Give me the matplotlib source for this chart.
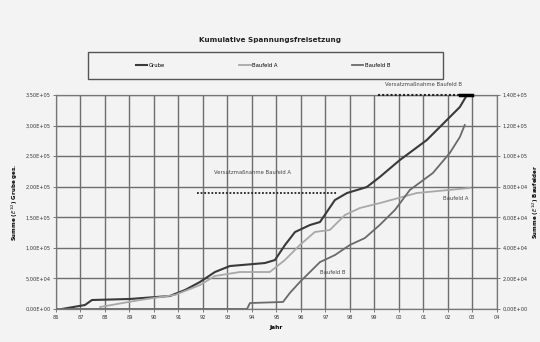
import matplotlib
matplotlib.use("Agg")
import matplotlib.pyplot as plt
from matplotlib.ticker import FuncFormatter
from matplotlib.patches import Rectangle

# ---- data ----
grube_year = [1986.24, 1987.18, 1987.47, 1989.02, 1990.65, 1991.27, 1991.88, 1992.49, 1993.10,
              1994.53, 1994.94, 1995.35, 1995.76, 1996.37, 1996.78, 1997.39, 1997.88, 1998.69,
              1999.22, 2000.04, 2001.14, 2002.08, 2002.49, 2002.78]
grube_val = [0.0, 0.065e5, 0.147e5, 0.164e5, 0.213e5, 0.311e5, 0.442e5, 0.605e5, 0.703e5,
             0.752e5, 0.801e5, 1.047e5, 1.259e5, 1.374e5, 1.423e5, 1.783e5, 1.897e5, 1.995e5,
             2.159e5, 2.437e5, 2.764e5, 3.140e5, 3.304e5, 3.5e5]

a_year = [1987.80, 1989.43, 1990.86, 1991.88, 1992.49, 1993.51, 1994.73, 1995.35, 1995.96,
          1996.57, 1997.18, 1997.80, 1998.41, 1999.22, 2000.73, 2002.90]
a_val = [0.13e4, 0.59e4, 0.92e4, 1.57e4, 2.16e4, 2.42e4, 2.42e4, 3.21e4, 4.19e4,
         5.04e4, 5.17e4, 6.15e4, 6.61e4, 6.93e4, 7.59e4, 7.92e4]

b_year = [1986.0, 1993.80, 1993.92, 1995.27, 1995.55, 1995.96, 1996.37, 1996.78, 1997.39,
          1998.00, 1998.61, 1999.22, 1999.84, 2000.45, 2001.39, 2002.08, 2002.49, 2002.69]
b_val = [0.0, 0.0, 0.39e4, 0.46e4, 1.05e4, 1.77e4, 2.42e4, 3.07e4, 3.53e4,
         4.19e4, 4.64e4, 5.50e4, 6.48e4, 7.79e4, 8.90e4, 10.21e4, 11.25e4, 12.04e4]

year_ticks = list(range(1986, 2005))
year_labels = [f"{y % 100:02d}" for y in year_ticks]

left_ticks = [i * 0.5e5 for i in range(8)]
right_ticks = [i * 2e4 for i in range(8)]

mass_a_span = [1991.76, 1997.47]
mass_a_level = 7.59e4
mass_b_span = [1999.14, 2002.9]
mass_b_level = 14e4

title = "Kumulative Spannungsfreisetzung"
names = ["Grube", "Baufeld A", "Baufeld B"]

# ---- figure ----
bg = "#f3f3f3"
fig = plt.figure(figsize=(5.4, 3.42), dpi=100, facecolor=bg)
ax = fig.add_axes([0.1037, 0.0965, 0.8163, 0.6255], facecolor=bg)
ax2 = ax.twinx()

def sci(v, pos):
    s = f"{v:.2E}"
    return s.replace(".", ",")

c_g, c_a, c_b = "#3a3a3a", "#a8a8a8", "#6a6a6a"
lg, = ax.plot(grube_year, grube_val, color=c_g, lw=1.5, zorder=5)
la, = ax2.plot(a_year, a_val, color=c_a, lw=1.3, zorder=4)
lb, = ax2.plot(b_year, b_val, color=c_b, lw=1.3, zorder=4)

ax.set_xlim(1986, 2004)
ax.set_ylim(0, 3.5e5)
ax2.set_ylim(0, 14e4)
ax.set_xticks(year_ticks)
ax.set_xticklabels(year_labels)
ax.set_yticks(left_ticks)
ax2.set_yticks(right_ticks)
ax.yaxis.set_major_formatter(FuncFormatter(sci))
ax2.yaxis.set_major_formatter(FuncFormatter(sci))

for a in (ax, ax2):
    a.tick_params(labelsize=3.6, length=2, width=0.6, color="#666666", pad=2, labelcolor="#333333")
    for s in a.spines.values():
        s.set_color("#777777")
        s.set_linewidth(0.8)
ax.grid(True, color="#6e6e6e", lw=1.0)
ax.set_axisbelow(True)

ax.set_xlabel("Jahr", fontsize=4.2, fontweight="bold", labelpad=4)
ax.set_ylabel(r"Summe ($E^{1/2}$) Grube ges.", fontsize=4.0, fontweight="bold", labelpad=4)
ax2.set_ylabel(r"Summe ($E^{1/2}$) Baufelder", fontsize=4.0, fontweight="bold", labelpad=2)

# annotations
ax2.plot(mass_a_span, [mass_a_level] * 2, color="#222222", lw=1.3, ls=(0, (1, 1)), zorder=6)
ax2.text(sum(mass_a_span) / 2 - 0.6, mass_a_level + 1.2e4, "Versatzmaßnahme Baufeld A",
         fontsize=3.8, color="#444444", ha="center", va="bottom")
ax2.plot(mass_b_span, [mass_b_level] * 2, color="#222222", lw=1.5, ls=(0, (1, 1)),
         zorder=6, clip_on=False)
ax2.plot([2002.5, 2003.0], [mass_b_level] * 2, color="#000000", lw=2.5, zorder=7, clip_on=False)
ax2.text(2001.0, mass_b_level + 0.5e4, "Versatzmaßnahme Baufeld B",
         fontsize=3.8, color="#444444", ha="center", va="bottom", clip_on=False)
ax2.text(2001.8, 7.2e4, "Baufeld A", fontsize=3.8, color="#444444", ha="left", va="center")
ax2.text(1997.3, 2.4e4, "Baufeld B", fontsize=3.8, color="#444444", ha="center", va="center")

fig.text(0.5, 0.883, title, fontsize=5.2, fontweight="bold", ha="center", va="center", color="#222222")

# legend frame + entries
fig.patches.append(Rectangle((0.163, 0.769), 0.657, 0.079, transform=fig.transFigure,
                             facecolor=bg, edgecolor="#555555", lw=1.0, zorder=1))
leg = fig.legend([lg, la, lb], names, loc="center",
                 bbox_to_anchor=(0.487, 0.8085), ncol=3,
                 fontsize=3.8, frameon=False, handlelength=2.2,
                 handletextpad=0.3, columnspacing=14)

fig.savefig("out.png", dpi=100, facecolor=bg)
